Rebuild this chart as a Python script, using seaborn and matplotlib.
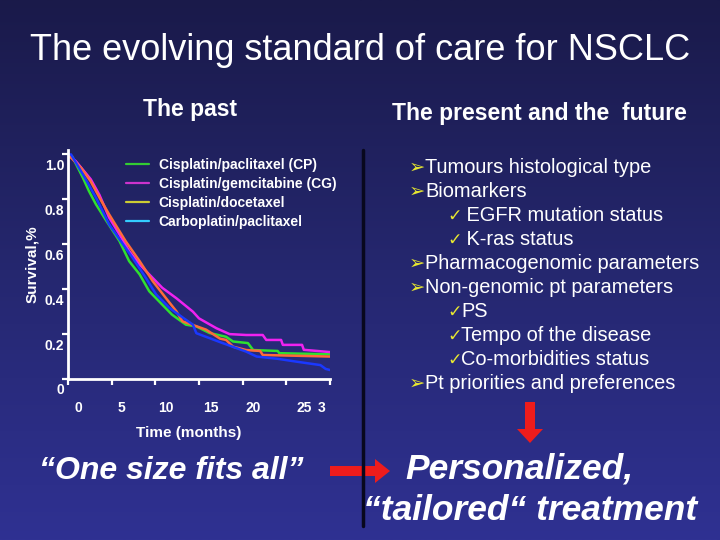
import numpy as np
import pandas as pd
import matplotlib
matplotlib.use("Agg")
import matplotlib.pyplot as plt
import matplotlib.transforms as mtrans
from matplotlib.colors import LinearSegmentedColormap
from matplotlib.lines import Line2D
from matplotlib.patches import FancyArrow
import seaborn as sb

#%% Daten
regimens = ["Cisplatin/paclitaxel (CP)", "Cisplatin/gemcitabine (CG)",
            "Cisplatin/docetaxel", "Carboplatin/paclitaxel"]

t_cp = [0, 0.5, 1.7, 2.4, 3.2, 4.4, 5.9, 7.0, 8.2, 9.3, 10.8, 11.9, 13.5, 14.7,
        16.2, 18.1, 18.9, 20.6, 21.2, 24.0, 24.2, 30]
s_cp = [1.0, 0.99, 0.897, 0.837, 0.778, 0.704, 0.614, 0.525, 0.466, 0.391, 0.331,
        0.287, 0.242, 0.234, 0.205, 0.188, 0.167, 0.16, 0.129, 0.125, 0.115, 0.11]

t_cg = [0, 0.9, 2.6, 3.6, 4.7, 5.9, 7.0, 8.2, 9.3, 10.8, 12.4, 14.3, 15.0, 17.0,
        18.5, 20.4, 22.3, 22.7, 24.4, 24.6, 26.8, 27.0, 30]
s_cg = [1.0, 0.97, 0.89, 0.82, 0.72, 0.644, 0.57, 0.51, 0.466, 0.406, 0.36, 0.30,
        0.27, 0.226, 0.20, 0.196, 0.196, 0.174, 0.174, 0.152, 0.152, 0.13, 0.12]

t_cd = [0, 1.5, 2.6, 3.6, 4.7, 6.6, 8.2, 9.7, 11.2, 12.4, 13.1, 15.8, 17.4, 18.1,
        18.9, 20.4, 22.0, 22.3, 30]
s_cd = [1.0, 0.94, 0.88, 0.808, 0.734, 0.614, 0.525, 0.436, 0.361, 0.302, 0.257,
        0.22, 0.18, 0.174, 0.144, 0.129, 0.125, 0.107, 0.10]

t_kp = [0, 0.35, 1.7, 3.2, 4.7, 6.3, 7.4, 8.9, 10.1, 11.6, 13.2, 14.3, 14.7, 17.7,
        20.4, 21.6, 24.0, 26.2, 28.9, 29.5, 30]
s_kp = [1.0, 1.0, 0.912, 0.808, 0.689, 0.60, 0.54, 0.451, 0.376, 0.317, 0.272,
        0.242, 0.204, 0.16, 0.122, 0.10, 0.09, 0.077, 0.062, 0.045, 0.04]

x_ticks = [0, 5, 10, 15, 20, 25, 30]
x_ticklabels = ["0", "5", "10", "15", "20", "25", "3"]
y_ticks = [0, 0.2, 0.4, 0.6, 0.8, 1.0]
y_ticklabels = ["0", "0.2", "0.4", "0.6", "0.8", "1.0"]

bullets = [
    ("arrow", "Tumours histological type"),
    ("arrow", "Biomarkers"),
    ("check", " EGFR mutation status"),
    ("check", " K-ras status"),
    ("arrow", "Pharmacogenomic parameters"),
    ("arrow", "Non-genomic pt parameters"),
    ("check", "PS"),
    ("check", "Tempo of the disease"),
    ("check", "Co-morbidities status"),
    ("arrow", "Pt priorities and preferences"),
]

#%% Farben
line_cols = {regimens[0]: "#2fe02f", regimens[1]: "#f022f0",
             regimens[2]: "#ff6a3a", regimens[3]: "#1a38ff"}
legend_cols = ["#33cc33", "#cc33cc", "#cccc33", "#33ccff"]
red = "#ee1c1c"
yellow = "#e8e830"

df = pd.concat([
    pd.DataFrame({"t": t, "S": s, "regimen": r})
    for t, s, r in zip([t_cp, t_cg, t_cd, t_kp], [s_cp, s_cg, s_cd, s_kp], regimens)
])

sb.set_style("white")
plt.rcParams["font.family"] = ["Liberation Sans", "DejaVu Sans"]

fig = plt.figure(figsize=(7.2, 5.4), dpi=100)

# Hintergrund (Verlauf) + Pixel-Koordinaten
bg = fig.add_axes([0, 0, 1, 1], zorder=0)
grad = np.linspace(0, 1, 256).reshape(-1, 1)
cmap = LinearSegmentedColormap.from_list("slide", ["#1a1a4a", "#25276f", "#2f3192"])
bg.imshow(grad, extent=(0, 720, 540, 0), aspect="auto", cmap=cmap)
bg.set_xlim(0, 720)
bg.set_ylim(540, 0)
bg.axis("off")

# Kaplan-Meier Plot
W, H = 720, 540
ax = fig.add_axes([68 / W, 1 - 379 / H, 262 / W, 229 / H], zorder=2)
ax.patch.set_alpha(0)
sb.lineplot(data=df, x="t", y="S", hue="regimen", palette=line_cols, sort=False,
            estimator=None, linewidth=1.8, legend=False, ax=ax)
ax.set_xlim(0, 30)
ax.set_ylim(0, 1.02)
ax.set_xticks(x_ticks)
ax.set_xticklabels(x_ticklabels)
ax.set_yticks(y_ticks)
ax.set_yticklabels(y_ticklabels)
ax.set_xlabel("")
ax.set_ylabel("")
for side in ["top", "right"]:
    ax.spines[side].set_visible(False)
for side in ["left", "bottom"]:
    ax.spines[side].set_color("white")
    ax.spines[side].set_linewidth(2)
ax.tick_params(colors="white", labelcolor="white", length=4.3, width=1.6,
               labelsize=10, direction="out", left=True, bottom=True)
for lab in ax.get_xticklabels() + ax.get_yticklabels():
    lab.set_fontweight("bold")

x_shift = [10, 10, 11, 12, 11, 18, -8]
for lab, dx in zip(ax.get_xticklabels(), x_shift):
    lab.set_transform(lab.get_transform() +
                      mtrans.ScaledTranslation(dx / 100, -11 / 100, fig.dpi_scale_trans))
for lab in ax.get_yticklabels():
    lab.set_transform(lab.get_transform() +
                      mtrans.ScaledTranslation(7 / 100, -10 / 100, fig.dpi_scale_trans))

handles = [Line2D([], [], color=c, lw=1.6) for c in legend_cols]
leg = ax.legend(handles, regimens, loc="upper left", frameon=False,
                bbox_to_anchor=(126 / W, 1 - 158 / H), bbox_transform=fig.transFigure,
                borderpad=0, borderaxespad=0, handlelength=1.65, handletextpad=0.7,
                labelspacing=0.35, prop={"size": 10, "weight": "bold"})
for txt in leg.get_texts():
    txt.set_color("white")

# Texte
white = "white"
bg.text(360, 60, "The evolving standard of care for NSCLC", color=white, fontsize=26,
        ha="center", va="baseline")
bg.text(190, 116, "The past", color=white, fontsize=16.5, fontweight="bold",
        ha="center", va="baseline")
bg.text(539, 120, "The present and the  future", color=white, fontsize=16.5,
        fontweight="bold", ha="center", va="baseline")
bg.text(189, 433, "Time (months)", color=white, fontsize=11, fontweight="bold",
        ha="center", va="center")
bg.text(32, 264, "Survival,%", color=white, fontsize=11, fontweight="bold",
        ha="center", va="center", rotation=90)

y0 = 173
for i, (kind, label) in enumerate(bullets):
    y = y0 + 24 * i
    if kind == "arrow":
        bg.text(409, y, "\u27a2", color=yellow, fontsize=14,
                family=["DejaVu Sans"], ha="left", va="baseline")
        bg.text(425, y, label, color=white, fontsize=14.4, ha="left", va="baseline")
    else:
        bg.text(447, y, "\u2713", color=yellow, fontsize=12.5,
                family=["DejaVu Sans"], ha="left", va="baseline")
        bg.text(461, y, label, color=white, fontsize=14.4, ha="left", va="baseline")

bg.text(171, 479, "\u201cOne size fits all\u201d", color=white, fontsize=23,
        fontweight="bold", style="italic", ha="center", va="baseline")
bg.text(519, 478, "Personalized,", color=white, fontsize=25.5,
        fontweight="bold", style="italic", ha="center", va="baseline")
bg.text(530, 520, "\u201ctailored\u201c treatment", color=white, fontsize=25.5,
        fontweight="bold", style="italic", ha="center", va="baseline")

# Trennlinie und Pfeile
bg.plot([363, 363], [150, 526], color="#08081e", lw=2.5)
bg.add_patch(FancyArrow(330, 471, 60, 0, width=10, head_width=24, head_length=15,
                        length_includes_head=True, color=red, lw=0))
bg.add_patch(FancyArrow(530, 402, 0, 41, width=10, head_width=26, head_length=14,
                        length_includes_head=True, color=red, lw=0))

fig.savefig("out.png", dpi=100)
